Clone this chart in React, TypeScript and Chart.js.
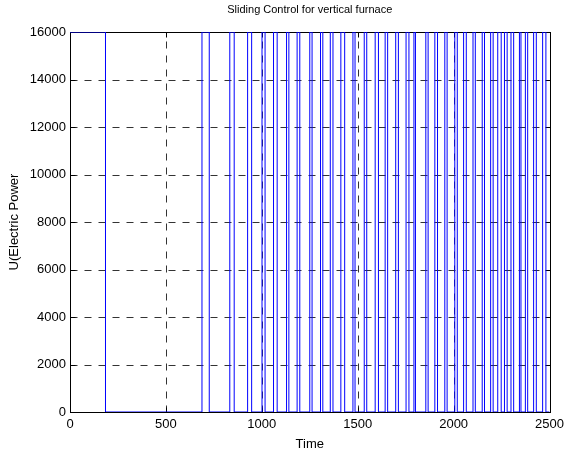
import React, { useEffect, useRef } from "react";
import { Chart, registerables } from "chart.js";

Chart.register(...registerables);

const titleText = "Sliding Control for vertical furnace";
const xLabel = "Time";
const yLabel = "U(Electric Power";

const xTicks = [0, 500, 1000, 1500, 2000, 2500];
const yTicks = [0, 2000, 4000, 6000, 8000, 10000, 12000, 14000, 16000];

const uHigh = 16000;
const uLow = 0;
const tStart = 0;
const tEnd = 2500;
const firstOff = 185;
const pulseOn = [688, 833, 926, 1001, 1061, 1129, 1184, 1250, 1306, 1357, 1412, 1475, 1534, 1591, 1643, 1698, 1752, 1793, 1855, 1902, 1954, 2006, 2052, 2101, 2149, 2193, 2230, 2265, 2299, 2343, 2374, 2417, 2464];
const pulseOff = [726, 856, 947, 1017, 1080, 1141, 1198, 1262, 1318, 1371, 1432, 1486, 1547, 1608, 1656, 1712, 1767, 1801, 1867, 1916, 1966, 2019, 2066, 2113, 2161, 2206, 2248, 2279, 2313, 2351, 2386, 2431, 2481];

const FONT = "'Liberation Sans', Arial, Helvetica, sans-serif";

function buildPoints() {
  const pts: { x: number; y: number }[] = [
    { x: tStart, y: uHigh },
    { x: firstOff, y: uLow },
  ];
  for (let i = 0; i < pulseOn.length; i++) {
    pts.push({ x: pulseOn[i], y: uHigh });
    pts.push({ x: pulseOff[i], y: uLow });
  }
  pts.push({ x: tEnd, y: uLow });
  return pts;
}

const snap = (v: number) => Math.round(v) + 0.5;

const matlabAxes = {
  id: "matlabAxes",
  beforeDatasetsDraw(chart: any) {
    const { ctx, chartArea: a, scales } = chart;
    const xs = scales.x;
    const ys = scales.y;
    const L = snap(a.left), R = snap(a.right), T = snap(a.top), B = snap(a.bottom);
    ctx.save();
    ctx.lineWidth = 1;
    ctx.strokeStyle = "#333";
    ctx.setLineDash([7, 7]);
    ctx.beginPath();
    for (const v of xTicks) {
      if (v === xTicks[0] || v === xTicks[xTicks.length - 1]) continue;
      const px = snap(xs.getPixelForValue(v));
      ctx.moveTo(px, B);
      ctx.lineTo(px, T);
    }
    for (const v of yTicks) {
      if (v === yTicks[0] || v === yTicks[yTicks.length - 1]) continue;
      const py = snap(ys.getPixelForValue(v));
      ctx.moveTo(L, py);
      ctx.lineTo(R, py);
    }
    ctx.stroke();
    ctx.setLineDash([]);
    ctx.strokeStyle = "#000";
    ctx.strokeRect(L, T, R - L, B - T);
    const tl = 5;
    ctx.beginPath();
    for (const v of xTicks) {
      const px = snap(xs.getPixelForValue(v));
      ctx.moveTo(px, B);
      ctx.lineTo(px, B - tl);
      ctx.moveTo(px, T);
      ctx.lineTo(px, T + tl);
    }
    for (const v of yTicks) {
      const py = snap(ys.getPixelForValue(v));
      ctx.moveTo(L, py);
      ctx.lineTo(L + tl, py);
      ctx.moveTo(R, py);
      ctx.lineTo(R - tl, py);
    }
    ctx.stroke();
    ctx.restore();
  },
  afterDraw(chart: any) {
    const { ctx, chartArea: a } = chart;
    const cx = (a.left + a.right) / 2;
    const cy = (a.top + a.bottom) / 2;
    ctx.save();
    ctx.fillStyle = "#000";
    ctx.textAlign = "center";
    ctx.textBaseline = "middle";
    ctx.font = `11px ${FONT}`;
    ctx.fillText(titleText, cx, 10);
    ctx.font = `13px ${FONT}`;
    ctx.fillText(xLabel, cx, 444);
    ctx.translate(14, cy);
    ctx.rotate(-Math.PI / 2);
    ctx.fillText(yLabel, 0, 0);
    ctx.restore();
  },
};

export default function App() {
  const ref = useRef<HTMLCanvasElement | null>(null);
  useEffect(() => {
    if (!ref.current) return;
    const chart = new Chart(ref.current, {
      type: "line",
      data: {
        datasets: [
          {
            data: buildPoints(),
            borderColor: "#0000ff",
            borderWidth: 1,
            pointRadius: 0,
            stepped: true,
            fill: false,
          },
        ],
      },
      options: {
        responsive: false,
        animation: false,
        events: [],
        layout: { padding: { top: 32, right: 16, left: 0, bottom: 0 } },
        plugins: {
          legend: { display: false },
          title: { display: false },
          tooltip: { enabled: false },
        },
        scales: {
          x: {
            type: "linear",
            min: 0,
            max: 2500,
            grid: { display: false, drawTicks: false, tickLength: 0 },
            border: { display: false },
            afterBuildTicks: (s: any) => {
              s.ticks = xTicks.map((v) => ({ value: v }));
            },
            afterFit: (s: any) => {
              s.height = 41;
            },
            ticks: {
              color: "#000",
              padding: 5,
              maxRotation: 0,
              autoSkip: false,
              font: { family: FONT, size: 13 },
              callback: (v: any) => String(v),
            },
          },
          y: {
            type: "linear",
            min: 0,
            max: 16000,
            grid: { display: false, drawTicks: false, tickLength: 0 },
            border: { display: false },
            afterBuildTicks: (s: any) => {
              s.ticks = yTicks.map((v) => ({ value: v }));
            },
            afterFit: (s: any) => {
              s.width = 70;
            },
            ticks: {
              color: "#000",
              padding: 4,
              autoSkip: false,
              font: { family: FONT, size: 13 },
              callback: (v: any) => String(v),
            },
          },
        },
      },
      plugins: [matlabAxes],
    } as any);
    return () => chart.destroy();
  }, []);
  return (
    <div style={{ position: "fixed", left: 0, top: 0, width: 569, height: 453, background: "#fff" }}>
      <canvas ref={ref} width={569} height={453} style={{ display: "block" }} />
    </div>
  );
}
